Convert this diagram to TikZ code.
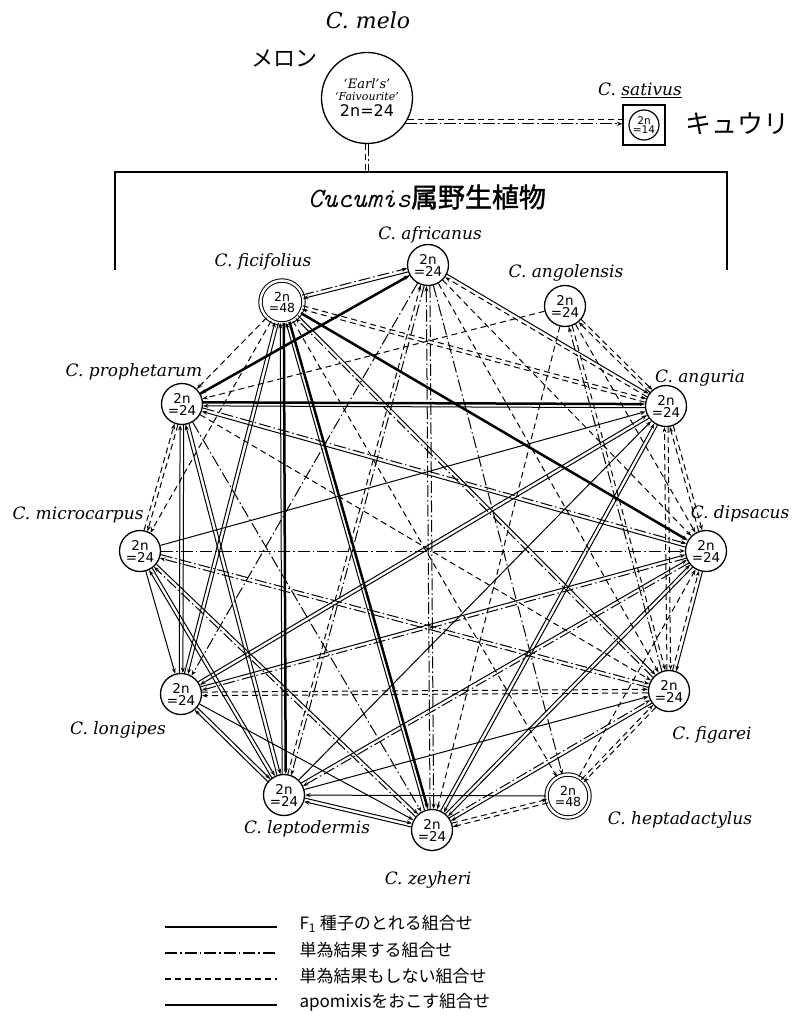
\documentclass[tikz,border=0pt]{standalone}
\usepackage{fontspec}
\newfontfamily\jp{Noto Sans CJK JP}
\newfontfamily\jpb[FakeBold=1.5]{Noto Sans CJK JP}
\newfontfamily\hand{DejaVu Serif}
\newfontfamily\num{DejaVu Sans}
\usetikzlibrary{calc,arrows.meta}
\tikzset{
  sp/.style={circle,draw,line width=1.3pt,minimum size=41pt,inner sep=0pt,fill=white,
    font=\num\fontsize{13.5}{12}\selectfont,align=center},
  spd/.style={sp,double,double distance=2.4pt,line width=1pt,minimum size=43pt,
    font=\num\fontsize{12.5}{11}\selectfont},
  lab/.style={font=\hand\itshape\fontsize{17}{17}\selectfont},
  tip/.style={-{Stealth[length=5.5pt,width=4pt]}},
  sh/.style={shorten <=21pt,shorten >=21pt},
  lS/.style={line width=1pt},
  lD/.style={line width=1pt,dash pattern=on 12pt off 3pt on 1.5pt off 3pt},
  lN/.style={line width=1pt,dash pattern=on 6pt off 4pt},
  lA/.style={line width=2.5pt},
}
\newcommand\ee[4]{%
  \draw[#3,tip,sh] ($(#1)!1.8pt!90:(#2)$) -- ($(#2)!1.8pt!-90:(#1)$);
  \draw[#4,tip,sh] ($(#2)!1.8pt!90:(#1)$) -- ($(#1)!1.8pt!-90:(#2)$);}
\newcommand\es[3]{\draw[#3,tip] (#1) -- (#2);}
\begin{document}
\begin{tikzpicture}[x=1pt,y=-1pt]
\useasboundingbox (0,0) rectangle (798,1016);
% top part
\node[circle,draw,line width=1.3pt,minimum size=91pt,inner sep=0pt,align=center] (melo) at (367,98)
  {{\hand\itshape\fontsize{13}{13}\selectfont ‘Earl’s’}\\[0pt]{\hand\itshape\fontsize{11}{12}\selectfont ‘Faivourite’}\\[3pt]{\num\fontsize{16}{16}\selectfont 2n=24}};
\node[lab,font=\hand\itshape\fontsize{22}{22}\selectfont] (melolab) at (368,20) {C. melo};
\node[font=\jp\fontsize{22}{22}\selectfont] (meron) at (284,58) {メロン};
\node[circle,draw,line width=1.2pt,minimum size=30pt,inner sep=0pt,align=center,font=\num\fontsize{10.5}{9.5}\selectfont] (sat) at (644,125) {2n\\=14};
\node[draw,line width=1.2pt,minimum width=42pt,minimum height=40pt] (satbox) at (644,125) {};
\node[lab] (satlab) at (640,90) {C. \underline{sativus}};
\node[font=\jp\fontsize{26}{26}\selectfont,anchor=west] (kyuri) at (682,124) {キュウリ};
\draw[lN] (melo.-28) -- (melo.-28 -| satbox.west);
\draw[lD,tip] (melo.-34) -- (melo.-34 -| satbox.west);
% bracket
\draw[line width=1.2pt] (115,270) -- (115,172) -- (727,172) -- (727,270);
\coordinate (brk) at (367,172);
\draw[lN] ($(melo.south)+(-1.6,0)$) -- ($(brk)+(-1.6,0)$);
\draw[lD] ($(melo.south)+(1.6,0)$) -- ($(brk)+(1.6,0)$);
\node (title) at (427,197) {{\ttfamily\itshape\fontsize{28}{28}\selectfont Cucumis}{\jpb\fontsize{27}{27}\selectfont 属野生植物}};
% species
\node[sp] (AF) at (428,265) {2n\\=24};
\node[spd] (FI) at (282,302) {2n\\=48};
\node[sp] (AN) at (565,306) {2n\\=24};
\node[sp] (PR) at (182,404) {2n\\=24};
\node[sp] (AG) at (666,406) {2n\\=24};
\node[sp] (MI) at (140,551) {2n\\=24};
\node[sp] (DI) at (706,551) {2n\\=24};
\node[sp] (LO) at (181,694) {2n\\=24};
\node[sp] (FG) at (669,691) {2n\\=24};
\node[sp] (LE) at (284,795) {2n\\=24};
\node[sp] (ZE) at (432,830) {2n\\=24};
\node[spd] (HE) at (568,796) {2n\\=48};
\node[lab] at (430,235) {C. africanus};
\node[lab] at (263,262) {C. ficifolius};
\node[lab] at (566,273) {C. angolensis};
\node[lab] at (134,372) {C. prophetarum};
\node[lab] at (700,378) {C. anguria};
\node[lab] at (78,515) {C. microcarpus};
\node[lab] at (740,514) {C. dipsacus};
\node[lab] at (118,730) {C. longipes};
\node[lab] at (712,735) {C. figarei};
\node[lab] at (307,829) {C. leptodermis};
\node[lab] at (680,820) {C. heptadactylus};
\node[lab] at (428,880) {C. zeyheri};
% connections
\ee{FI}{AF}{lD}{lS}
\es{PR}{AF}{lA}
\es{AF}{PR}{lN}
\ee{AF}{AG}{lS}{lN}
\ee{AF}{ZE}{lD}{lD}
\ee{AF}{LE}{lD}{lN}
\es{AF}{FG}{lN}
\es{AF}{DI}{lN}
\es{AF}{LO}{lD}
\es{AF}{HE}{lD}
\ee{FI}{AG}{lN}{lN}
\es{FI}{DI}{lA}
\ee{FI}{LE}{lA}{lS}
\ee{FI}{ZE}{lA}{lS}
\ee{FI}{LO}{lS}{lS}
\es{FI}{MI}{lN}
\es{FI}{PR}{lN}
\ee{FI}{FG}{lS}{lD}
\es{FI}{HE}{lN}
\es{AN}{PR}{lN}
\ee{AN}{AG}{lN}{lN}
\ee{AN}{FG}{lN}{lD}
\es{AN}{DI}{lN}
\es{AN}{ZE}{lN}
\ee{PR}{AG}{lA}{lS}
\ee{PR}{LO}{lS}{lS}
\ee{PR}{MI}{lN}{lN}
\ee{PR}{LE}{lS}{lS}
\es{PR}{ZE}{lD}
\es{PR}{FG}{lN}
\ee{PR}{DI}{lD}{lS}
\es{MI}{DI}{lD}
\es{MI}{LO}{lS}
\ee{MI}{LE}{lS}{lS}
\ee{MI}{ZE}{lS}{lD}
\ee{MI}{FG}{lD}{lD}
\es{MI}{AG}{lS}
\ee{LO}{FG}{lN}{lN}
\ee{LO}{AG}{lS}{lS}
\ee{LO}{DI}{lS}{lD}
\ee{LO}{LE}{lS}{lS}
\es{LO}{ZE}{lS}
\ee{LE}{ZE}{lS}{lS}
\es{HE}{LE}{lS}
\es{LE}{AG}{lS}
\ee{LE}{DI}{lS}{lD}
\es{LE}{FG}{lS}
\ee{ZE}{AG}{lS}{lS}
\ee{ZE}{DI}{lS}{lS}
\ee{ZE}{FG}{lD}{lS}
\ee{ZE}{HE}{lN}{lN}
\ee{HE}{FG}{lN}{lN}
\es{HE}{DI}{lN}
\ee{FG}{DI}{lN}{lS}
\ee{DI}{AG}{lN}{lN}
\ee{FG}{AG}{lN}{lN}
% legend
\coordinate (k1a) at (165,927); \coordinate (k1b) at (277,927);
\coordinate (k2a) at (165,953); \coordinate (k2b) at (277,953);
\coordinate (k3a) at (165,979); \coordinate (k3b) at (277,979);
\coordinate (k4a) at (165,1005); \coordinate (k4b) at (277,1005);
\draw[lS,line width=1.3pt] (k1a) -- (k1b);
\draw[lD,line width=1.3pt] (k2a) -- (k2b);
\draw[lN,line width=1.3pt] (k3a) -- (k3b);
\draw[lA,line width=2.8pt] (k4a) -- (k4b);
\tikzset{leg/.style={anchor=west,font=\jp\fontsize{17}{17}\selectfont}}
\node[leg] (t1) at (296,924) {F\textsubscript{1} 種子のとれる組合せ};
\node[leg] (t2) at (296,950) {単為結果する組合せ};
\node[leg] (t3) at (296,976) {単為結果もしない組合せ};
\node[leg] (t4) at (296,1002) {apomixisをおこす組合せ};
\end{tikzpicture}
\end{document}
